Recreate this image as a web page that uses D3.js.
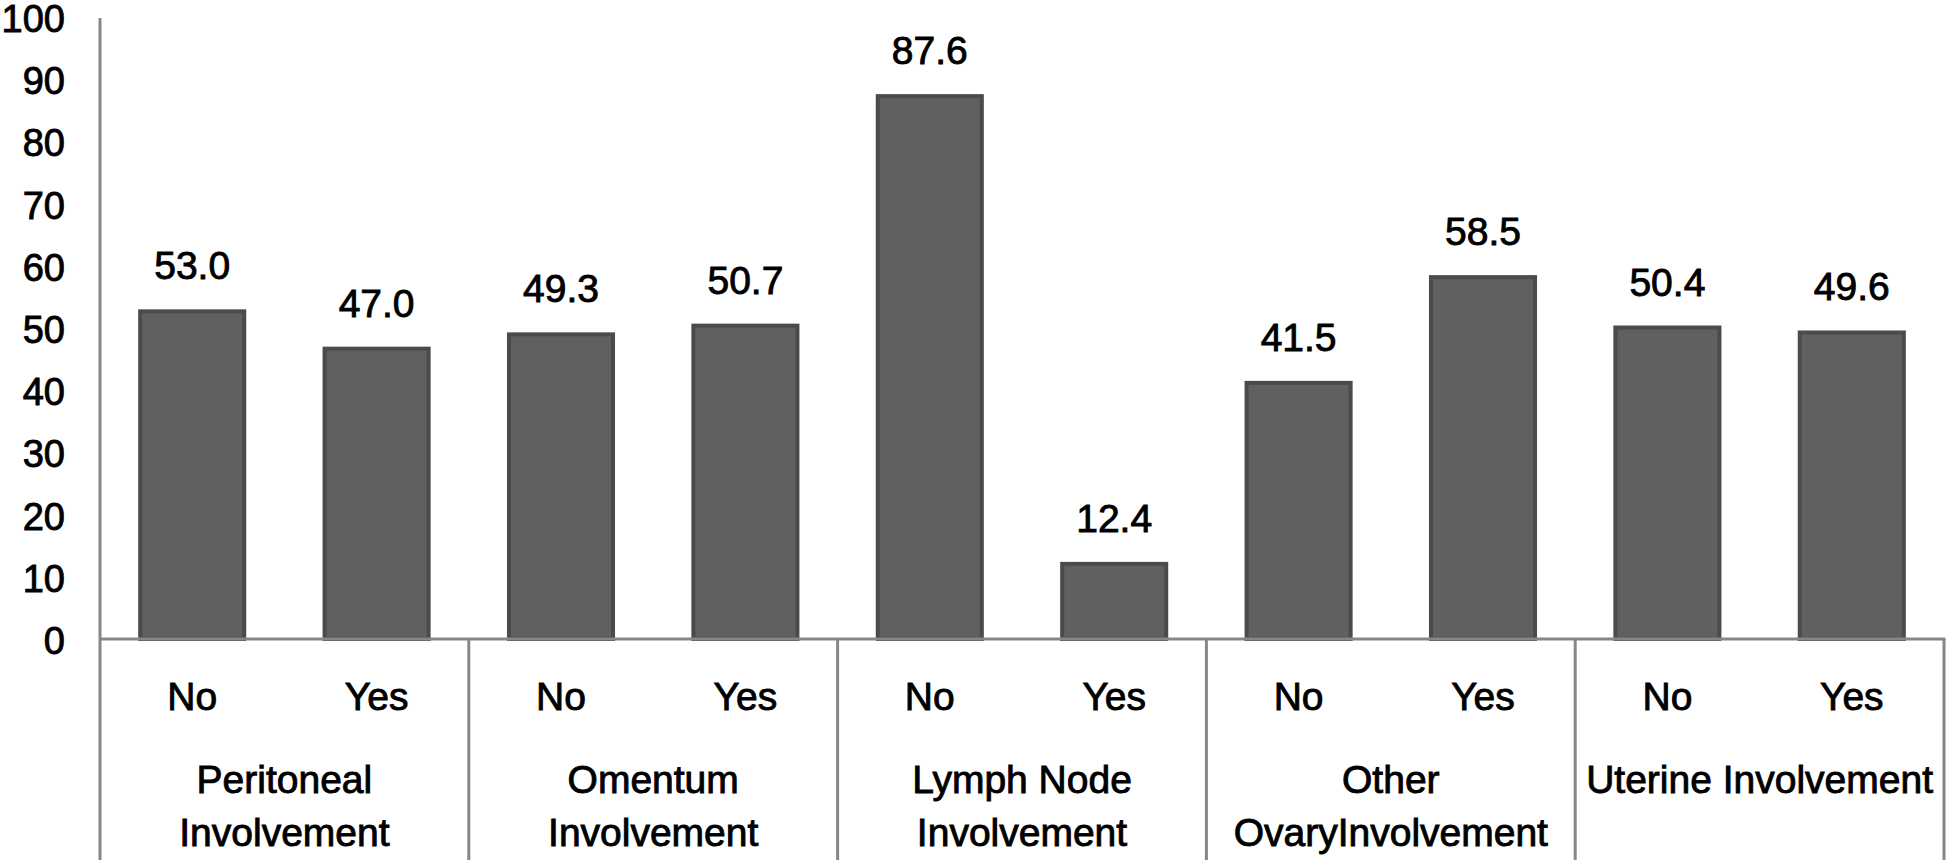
<!DOCTYPE html>
<html>
<head>
<meta charset="utf-8">
<script src="https://cdn.jsdelivr.net/npm/d3@7"></script>
<style>
  html, body { margin: 0; padding: 0; background: #fff; }
  svg { display: block; }
  text { font-family: "Liberation Sans", Arial, sans-serif; fill: #000; stroke: #000; stroke-width: 0.9px; }
</style>
</head>
<body>
<svg id="chart" width="1952" height="860"></svg>
<script>
// ---- data ----
const groups = ["Peritoneal Involvement", "Omentum Involvement", "Lymph Node Involvement", "Other OvaryInvolvement", "Uterine Involvement"];
const groupLines = [["Peritoneal", "Involvement"], ["Omentum", "Involvement"], ["Lymph Node", "Involvement"], ["Other", "OvaryInvolvement"], ["Uterine Involvement"]];
const subCategories = ["No", "Yes"];
const noValues  = [53.0, 49.3, 87.6, 41.5, 50.4];
const yesValues = [47.0, 50.7, 12.4, 58.5, 49.6];
const yTicks = [0, 10, 20, 30, 40, 50, 60, 70, 80, 90, 100];

const rows = groups.map((g, i) => ({ group: g, lines: groupLines[i], values: [
  { key: "No", value: noValues[i] }, { key: "Yes", value: yesValues[i] } ] }));

// ---- layout ----
const svg = d3.select("#chart");
const mLeft = 100, mRight = 1944, mTop = 17, mBase = 639, mBottom = 860;
const fs = 39;

const y = d3.scaleLinear().domain([0, 100]).range([mBase, mTop]);
const x0 = d3.scaleBand().domain(groups).range([mLeft, mRight]).paddingInner(0).paddingOuter(0);
const x1 = d3.scaleBand().domain(subCategories).range([0, x0.bandwidth()]).paddingInner(0.414).paddingOuter(0.207);

const axisColor = "#878787";

// bars
const g = svg.selectAll("g.grp").data(rows).enter().append("g")
  .attr("class", "grp")
  .attr("transform", d => `translate(${x0(d.group)},0)`);

g.selectAll("rect").data(d => d.values).enter().append("rect")
  .attr("x", d => x1(d.key) + 2)
  .attr("width", x1.bandwidth() - 4)
  .attr("y", d => y(d.value) + 2)
  .attr("height", d => Math.max(0, mBase - y(d.value) - 2))
  .attr("fill", "#606060")
  .attr("stroke", "#4b4b4b")
  .attr("stroke-width", 4);

// value labels
g.selectAll("text.val").data(d => d.values).enter().append("text")
  .attr("class", "val")
  .attr("x", d => x1(d.key) + x1.bandwidth() / 2)
  .attr("y", d => y(d.value) - 30)
  .attr("text-anchor", "middle")
  .style("font-size", fs + "px")
  .text(d => d.value.toFixed(1));

// sub-category labels
g.selectAll("text.sub").data(subCategories).enter().append("text")
  .attr("class", "sub")
  .attr("x", d => x1(d) + x1.bandwidth() / 2)
  .attr("y", 710)
  .attr("text-anchor", "middle")
  .style("font-size", fs + "px")
  .text(d => d);

// group labels
g.each(function(d) {
  const t = d3.select(this).append("text")
    .attr("text-anchor", "middle")
    .style("font-size", fs + "px");
  d.lines.forEach((line, i) => {
    t.append("tspan")
      .attr("x", x0.bandwidth() / 2)
      .attr("y", 793 + i * 53)
      .text(line);
  });
});

// y axis
const yAxis = d3.axisLeft(y).tickValues(yTicks).tickSize(0).tickPadding(35);
const ya = svg.append("g").attr("transform", `translate(${mLeft},0)`).call(yAxis);
ya.select(".domain").remove();
ya.selectAll("text")
  .style("font-size", "38px")
  .style("font-family", '"Liberation Sans", Arial, sans-serif')
  .attr("fill", "#000")
  .attr("dy", "0.38em");

svg.append("line")
  .attr("x1", mLeft).attr("x2", mLeft)
  .attr("y1", mTop + 1).attr("y2", mBottom)
  .attr("stroke", axisColor).attr("stroke-width", 3);

// x axis baseline
svg.append("line")
  .attr("x1", mLeft).attr("x2", mRight + 1.5)
  .attr("y1", mBase).attr("y2", mBase)
  .attr("stroke", axisColor).attr("stroke-width", 3);

// group dividers
const dividers = groups.slice(1).map(gname => x0(gname)).concat([mRight]);
svg.selectAll("line.div").data(dividers).enter().append("line")
  .attr("class", "div")
  .attr("x1", d => d).attr("x2", d => d)
  .attr("y1", mBase).attr("y2", mBottom)
  .attr("stroke", axisColor).attr("stroke-width", 3);
</script>
</body>
</html>
